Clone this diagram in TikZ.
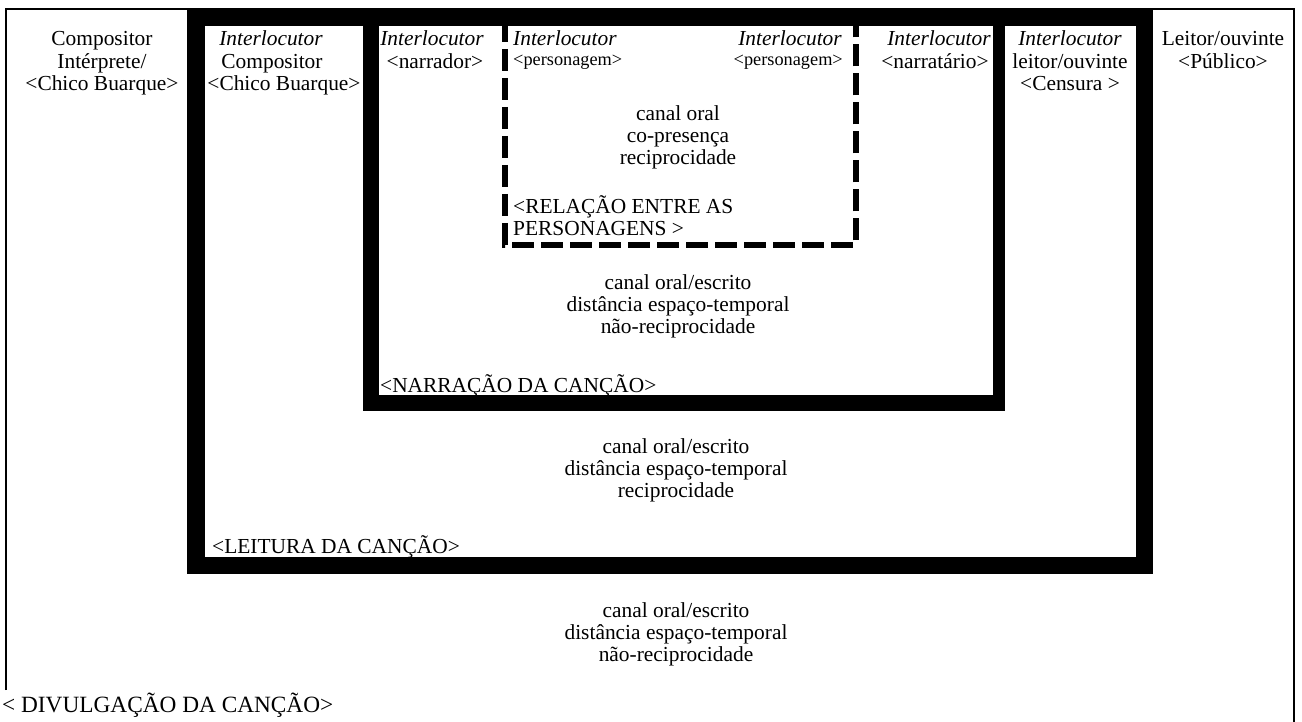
\documentclass[tikz,border=0pt]{standalone}
\usepackage{fontspec}
\setmainfont{Liberation Serif}
\begin{document}
\begin{tikzpicture}[x=1pt,y=-1pt,
  txt/.style={anchor=base,inner sep=0pt,font=\fontsize{21.4}{23}\selectfont},
  txtl/.style={txt,anchor=base west},
  txtr/.style={txt,anchor=base east},
  small/.style={font=\fontsize{18.3}{20}\selectfont},
  big/.style={font=\fontsize{23.3}{25}\selectfont},
  band/.style={fill=black},
  hole/.style={fill=white},
  thinframe/.style={draw=black,line width=2pt},
  dashframe/.style={draw=black,line width=6pt,dash pattern=on 22pt off 7pt}]
\useasboundingbox (0,0) rectangle (1302,722);
\fill[white] (0,0) rectangle (1302,722);

% outer frame: divulgação
\draw[thinframe] (6,690) -- (6,9) -- (1294,9) -- (1294,722);

% thick frame: leitura da canção
\fill[band] (187,9) rectangle (1153,574);
\fill[hole] (205,26) rectangle (1136,557);

% middle frame: narração da canção
\fill[band] (363,9) rectangle (1005,411);
\fill[hole] (379,26) rectangle (993,395);

% dashed frame: relação entre as personagens
\draw[dashframe] (505,20) -- (505,245) -- (855.5,245) -- (855.5,20);

% left column
\node[txt] (c1a) at (102,46) {Compositor};
\node[txt] (c1b) at (102,68.5) {Intérprete/};
\node[txt] (c1c) at (102,91) {<Chico Buarque>};

% composer column
\node[txt] (c2a) at (271,46) {\textit{Interlocutor}};
\node[txt] (c2b) at (272,68.5) {Compositor};
\node[txt] (c2c) at (284,91) {<Chico Buarque>};

% narrator column
\node[txt] (c3a) at (432,46) {\textit{Interlocutor}};
\node[txt] (c3b) at (435,68.5) {<narrador>};

% characters
\node[txtl] (d1a) at (513,46) {\textit{Interlocutor}};
\node[txtl,small] (d1b) at (513,66) {<personagem>};
\node[txtr] (d2a) at (842,46) {\textit{Interlocutor}};
\node[txtr,small] (d2b) at (843,66) {<personagem>};
\node[txt] (d3a) at (678,121) {canal oral};
\node[txt] (d3b) at (678,143) {co-presença};
\node[txt] (d3c) at (678,165) {reciprocidade};
\node[txtl] (d4a) at (513,214) {<RELAÇÃO ENTRE AS};
\node[txtl] (d4b) at (513,236) {PERSONAGENS >};

% narratee column
\node[txt] (c4a) at (939,46) {\textit{Interlocutor}};
\node[txt] (c4b) at (935,68.5) {<narratário>};

% censorship column
\node[txt] (c5a) at (1070,46) {\textit{Interlocutor}};
\node[txt] (c5b) at (1070,68.5) {leitor/ouvinte};
\node[txt] (c5c) at (1070,91) {<Censura >};

% public column
\node[txt] (c6a) at (1223,46) {Leitor/ouvinte};
\node[txt] (c6b) at (1223,68.5) {<Público>};

% narration level
\node[txt] (m1) at (678,290) {canal oral/escrito};
\node[txt] (m2) at (678,312) {distância espaço-temporal};
\node[txt] (m3) at (678,334) {não-reciprocidade};
\node[txtl] (m4) at (380,392) {<NARRAÇÃO DA CANÇÃO>};

% reading level
\node[txt] (l1) at (676,453) {canal oral/escrito};
\node[txt] (l2) at (676,475) {distância espaço-temporal};
\node[txt] (l3) at (676,497) {reciprocidade};
\node[txtl] (l4) at (212,553) {<LEITURA DA CANÇÃO>};

% divulgation level
\node[txt] (o1) at (676,617) {canal oral/escrito};
\node[txt] (o2) at (676,639) {distância espaço-temporal};
\node[txt] (o3) at (676,661) {não-reciprocidade};
\node[txtl,big] (o4) at (2,712) {< DIVULGAÇÃO DA CANÇÃO>};
\end{tikzpicture}
\end{document}
